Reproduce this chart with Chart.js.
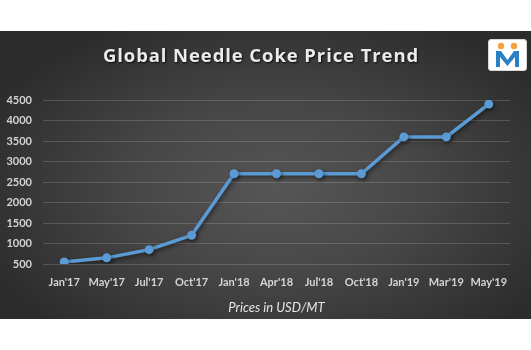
<!DOCTYPE html>
<html>
<head>
<meta charset="utf-8">
<script src="https://cdn.jsdelivr.net/npm/chart.js@4.4.1/dist/chart.umd.min.js"></script>
<style>
  html, body { margin: 0; padding: 0; background: #ffffff; width: 531px; height: 350px; overflow: hidden; }
  #panel {
    position: absolute; left: 0; top: 31px; width: 531px; height: 288px;
    background: radial-gradient(ellipse 60% 65% at 52% 55%, #565656 0%, #474747 45%, #2c2c2c 100%);
  }
  #title {
    position: absolute; left: 0; top: 11px; width: 522px; text-align: center;
    font-family: "Open Sans", sans-serif; font-weight: bold; font-size: 18.5px;
    letter-spacing: 0.9px; color: #ebebeb; text-shadow: 1px 1px 2px rgba(0,0,0,0.8);
  }
  #logo {
    position: absolute; left: 488px; top: 8px; width: 37px; height: 30px;
    background: #ffffff; border: 1px solid #d8d8d8; border-radius: 3px;
  }
  canvas { position: absolute; left: 0; top: 0; }
</style>
</head>
<body>
<div id="panel">
  <canvas id="c" width="531" height="288"></canvas>
  <div id="title">Global Needle Coke Price Trend</div>
  <div id="logo">
    <svg width="37" height="30" viewBox="0 0 37 30">
      <circle cx="12" cy="6" r="3.2" fill="#f2a33a"/>
      <circle cx="25" cy="6" r="3.2" fill="#f2a33a"/>
      <path d="M7 27 L7 11 L12 11 L18.5 20 L25 11 L30 11 L30 27 L26 27 L26 17 L18.5 26 L11 17 L11 27 Z" fill="#2a80c4"/>
    </svg>
  </div>
</div>
<script>
const categories = ["Jan'17", "May'17", "Jul'17", "Oct'17", "Jan'18", "Apr'18", "Jul'18", "Oct'18", "Jan'19", "Mar'19", "May'19"];
const prices = [550, 650, 850, 1200, 2700, 2700, 2700, 2700, 3600, 3600, 4400];
const yTicks = [500, 1000, 1500, 2000, 2500, 3000, 3500, 4000, 4500];

const shadowPlugin = {
  id: 'lineShadow',
  beforeDatasetsDraw(chart) {
    const ctx = chart.ctx;
    ctx.save();
    ctx.shadowColor = 'rgba(0,0,0,0.5)';
    ctx.shadowBlur = 4;
    ctx.shadowOffsetX = 1.5;
    ctx.shadowOffsetY = 2;
  },
  afterDatasetsDraw(chart) {
    chart.ctx.restore();
  }
};

new Chart(document.getElementById('c'), {
  type: 'line',
  data: {
    labels: categories,
    datasets: [{
      data: prices,
      borderColor: '#5b9bd5',
      backgroundColor: '#5b9bd5',
      borderWidth: 3.5,
      pointRadius: 4.5,
      pointHoverRadius: 4.5,
      pointBorderWidth: 0,
      pointBackgroundColor: '#5b9bd5',
      tension: 0,
      fill: false
    }]
  },
  options: {
    responsive: false,
    animation: false,
    layout: { padding: { top: 69, right: 21, bottom: 0, left: 0 } },
    plugins: { legend: { display: false }, tooltip: { enabled: false }, title: { display: false } },
    scales: {
      x: {
        offset: true,
        grid: { display: false, drawTicks: false },
        border: { display: false },
        ticks: { color: '#d4d4d4', font: { family: 'Lato', weight: 'bold', size: 11 }, padding: 12, maxRotation: 0, autoSkip: false },
        title: { display: true, text: 'Prices in USD/MT', color: '#e6e6e6', font: { family: 'Lato', style: 'italic', size: 13 }, padding: { top: 4, bottom: 3 } },
        afterFit(scale) { scale.height = 55; }
      },
      y: {
        min: 500, max: 4500,
        afterBuildTicks(scale) { scale.ticks = yTicks.map(v => ({ value: v })); },
        grid: { color: 'rgba(255,255,255,0.16)', lineWidth: 1, drawTicks: false },
        border: { display: false },
        ticks: { color: '#d4d4d4', font: { family: 'Lato', weight: 'bold', size: 11 }, padding: 11, callback: v => String(v) },
        afterFit(scale) { scale.width = 43; }
      }
    }
  },
  plugins: [shadowPlugin]
});
</script>
</body>
</html>
